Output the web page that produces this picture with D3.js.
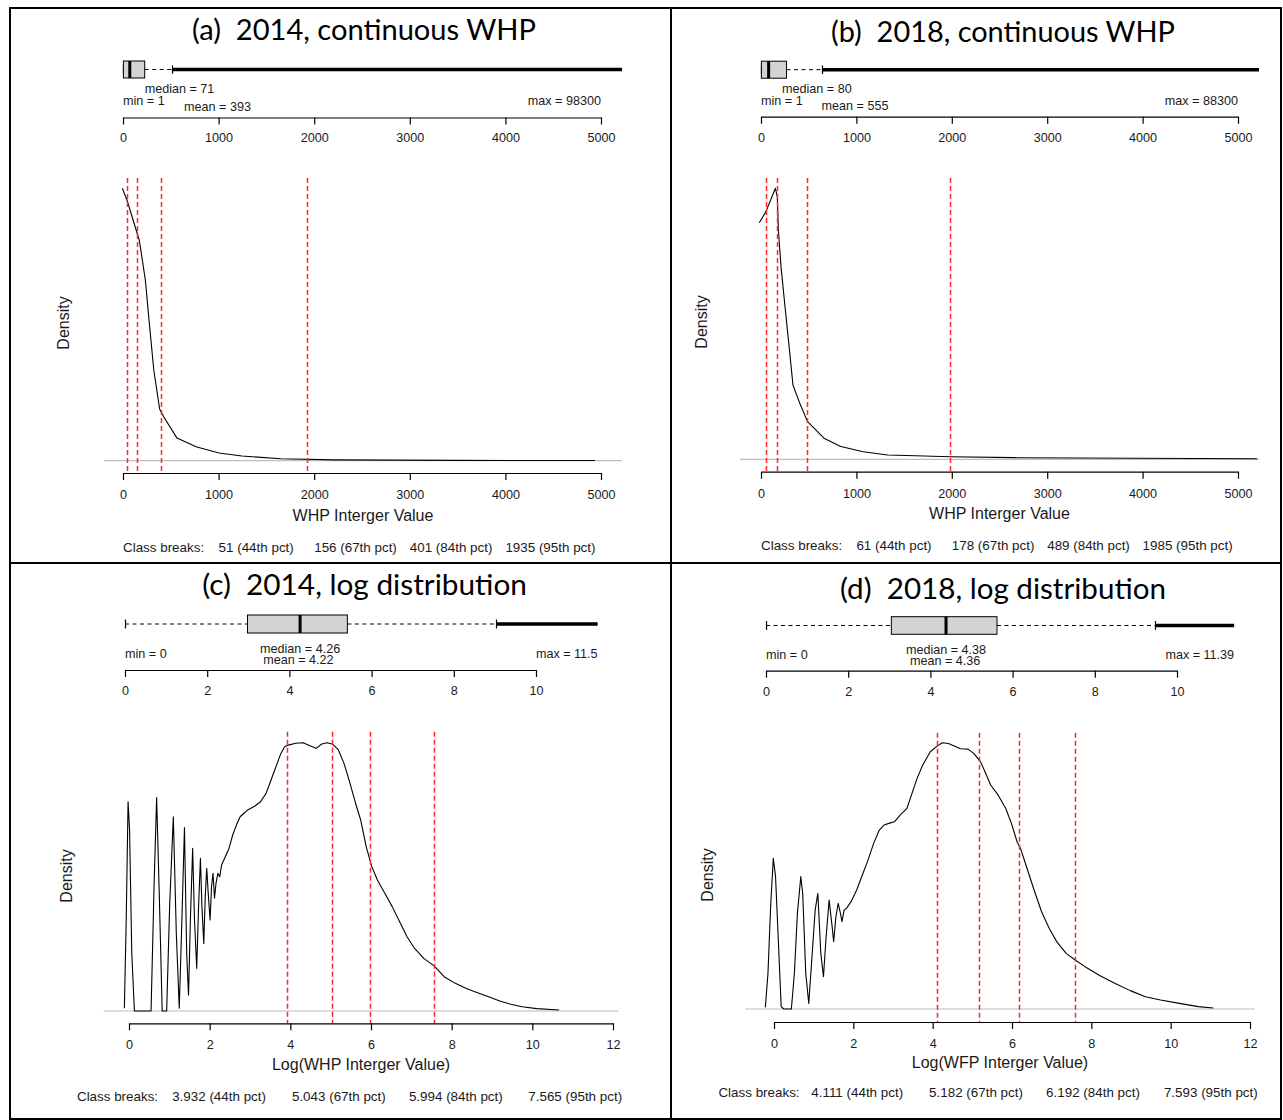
<!DOCTYPE html>
<html>
<head>
<meta charset="utf-8">
<script src="https://cdn.jsdelivr.net/npm/d3@7"></script>
<style>
  body { margin: 0; background: #fff; }
  text { font-family: "Liberation Sans", Arial, sans-serif; fill: #1a1a1a; }
</style>
</head>
<body>
<script>
// ---- data ----
var titles = ["(a)  2014, continuous WHP", "(b)  2018, continuous WHP",
              "(c)  2014, log distribution", "(d)  2018, log distribution"]
var xTitles = ["WHP Interger Value", "WHP Interger Value",
               "Log(WHP Interger Value)", "Log(WFP Interger Value)"]

var contTicks = [0, 1000, 2000, 3000, 4000, 5000]
var logTopTicks = [0, 2, 4, 6, 8, 10]
var logBottomTicks = [0, 2, 4, 6, 8, 10, 12]

// low whisker, q1, median, q3, high whisker
var boxA = [1, 4, 71, 227, 520]
var boxB = [1, 4, 80, 267, 646]
var boxC = [0, 2.98, 4.26, 5.41, 9.03]
var boxD = [0, 3.05, 4.38, 5.62, 9.47]

// min, median, mean, max
var summaryA = [1, 71, 393, 98300]
var summaryB = [1, 80, 555, 88300]
var summaryC = [0, 4.26, 4.22, 11.5]
var summaryD = [0, 4.38, 4.36, 11.39]

var pctNames = ["44th pct", "67th pct", "84th pct", "95th pct"]
var breaksA = [51, 156, 401, 1935]
var breaksB = [61, 178, 489, 1985]
var breaksC = [3.932, 5.043, 5.994, 7.565]
var breaksD = [4.111, 5.182, 6.192, 7.593]

// density curves, [value, relative density]
var densityA = [[-7, 1.0], [41, 0.957], [169, 0.811], [186, 0.774], [234, 0.663], [272, 0.517],
  [322, 0.333], [383, 0.19], [424, 0.162], [565, 0.083], [764, 0.051], [1004, 0.028],
  [1245, 0.017], [1651, 0.007], [2213, 0.003], [3500, 0.0012], [4937, 0.0005]]

var densityB = [[-18, 0.873], [52, 0.914], [151, 1.0], [171, 0.969], [182, 0.846], [210, 0.71],
  [248, 0.576], [295, 0.415], [335, 0.274], [405, 0.208], [488, 0.139], [660, 0.078],
  [836, 0.047], [1072, 0.028], [1327, 0.016], [1619, 0.013], [1985, 0.0096], [2646, 0.006],
  [5200, 0.002]]

var densityC = [[-0.115, 0.01], [-0.069, 0.339], [-0.023, 0.78], [0.014, 0.675], [0.069, 0.215],
  [0.134, 0], [0.547, 0], [0.621, 0.463], [0.685, 0.796], [0.75, 0.439], [0.823, 0], [0.934, 0],
  [1.007, 0.389], [1.099, 0.724], [1.173, 0.289], [1.246, 0.01], [1.311, 0.339], [1.375, 0.684],
  [1.43, 0.215], [1.476, 0.06], [1.522, 0.339], [1.578, 0.606], [1.624, 0.339], [1.679, 0.159],
  [1.725, 0.389], [1.771, 0.569], [1.808, 0.389], [1.854, 0.252], [1.89, 0.426], [1.927, 0.532],
  [1.964, 0.439], [2.01, 0.339], [2.046, 0.463], [2.083, 0.513], [2.12, 0.42], [2.157, 0.476],
  [2.203, 0.513], [2.249, 0.5], [2.295, 0.544], [2.387, 0.575], [2.479, 0.606], [2.571, 0.656],
  [2.663, 0.693], [2.755, 0.724], [2.847, 0.737], [2.939, 0.749], [3.012, 0.755], [3.123, 0.764],
  [3.26, 0.78], [3.399, 0.811], [3.49, 0.848], [3.583, 0.886], [3.674, 0.923], [3.766, 0.96],
  [3.858, 0.985], [3.95, 0.991], [4.134, 0.998], [4.318, 1.0], [4.502, 0.988], [4.64, 0.979],
  [4.778, 0.995], [4.916, 1.0], [5.054, 0.994], [5.192, 0.973], [5.33, 0.923], [5.468, 0.855],
  [5.606, 0.78], [5.744, 0.712], [5.882, 0.612], [6.02, 0.538], [6.158, 0.488], [6.342, 0.439],
  [6.526, 0.389], [6.71, 0.333], [6.894, 0.277], [7.077, 0.234], [7.307, 0.196], [7.565, 0.168],
  [7.813, 0.128], [8.089, 0.103], [8.365, 0.084], [8.641, 0.068], [8.917, 0.053], [9.193, 0.037],
  [9.469, 0.025], [9.744, 0.016], [10.112, 0.009], [10.664, 0.004]]

var densityD = [[-0.218, 0.006], [-0.152, 0.134], [-0.085, 0.384], [-0.018, 0.566], [0.039, 0.497],
  [0.105, 0.272], [0.181, 0.009], [0.248, 0], [0.438, 0], [0.514, 0.134], [0.59, 0.359],
  [0.676, 0.497], [0.724, 0.434], [0.8, 0.134], [0.876, 0.021], [0.952, 0.184], [1.038, 0.372],
  [1.105, 0.434], [1.18, 0.209], [1.247, 0.121], [1.314, 0.272], [1.39, 0.409], [1.466, 0.309],
  [1.504, 0.253], [1.561, 0.347], [1.618, 0.397], [1.675, 0.359], [1.713, 0.328], [1.77, 0.372],
  [1.827, 0.378], [1.942, 0.403], [2.084, 0.447], [2.227, 0.503], [2.37, 0.559], [2.512, 0.622],
  [2.655, 0.672], [2.779, 0.691], [2.893, 0.697], [3.036, 0.703], [3.179, 0.728], [3.35, 0.753],
  [3.464, 0.803], [3.607, 0.866], [3.749, 0.916], [3.94, 0.966], [4.111, 0.987], [4.244, 1.0],
  [4.396, 0.997], [4.558, 0.987], [4.701, 0.977], [4.891, 0.976], [5.034, 0.96], [5.205, 0.929],
  [5.319, 0.891], [5.462, 0.841], [5.652, 0.803], [5.843, 0.753], [5.985, 0.697], [6.128, 0.628],
  [6.214, 0.603], [6.366, 0.534], [6.556, 0.447], [6.746, 0.365], [6.937, 0.303], [7.127, 0.253],
  [7.365, 0.209], [7.593, 0.184], [7.841, 0.159], [8.221, 0.125], [8.602, 0.096], [8.983, 0.069],
  [9.363, 0.046], [9.744, 0.034], [10.22, 0.021], [10.695, 0.009], [11.076, 0.004]]

// ---- layout (pixels) ----
var panels = [
  { title: titles[0], titleX: 364, titleY: 40, titleW: 344,
    topDom: [0, 5000], topRange: [123, 601], topTicks: contTicks, topY: 117.5,
    boxY: 69.5, boxH: 17, box: boxA, summary: summaryA, clipMax: 5220,
    labs: [{ i: 1, at: 227, anchor: "start", y: 92.5, name: "median" },
           { i: 0, at: 0, anchor: "start", y: 105, name: "min" },
           { i: 2, at: 639, anchor: "start", y: 111, name: "mean" },
           { i: 3, at: 5000, anchor: "end", y: 105, name: "max" }],
    botDom: [0, 5000], botRange: [123, 601], botTicks: contTicks, botY: 473,
    region: [104, 622], regTop: 178, y0: 460.7, yMax: 188.3,
    density: densityA, breaks: breaksA, xTitle: xTitles[0], xTitleY: 521, classY: 551.5,
    classAt: [0, 1000, 2000, 3000, 4000], densX: 69, densY: 323 },
  { title: titles[1], titleX: 1003, titleY: 42, titleW: 344,
    topDom: [0, 5000], topRange: [761, 1238], topTicks: contTicks, topY: 116.7,
    boxY: 69.7, boxH: 17, box: boxB, summary: summaryB, clipMax: 5220,
    labs: [{ i: 1, at: 220, anchor: "start", y: 92.5, name: "median" },
           { i: 0, at: 0, anchor: "start", y: 104.5, name: "min" },
           { i: 2, at: 635, anchor: "start", y: 110, name: "mean" },
           { i: 3, at: 5000, anchor: "end", y: 104.5, name: "max" }],
    botDom: [0, 5000], botRange: [761, 1238], botTicks: contTicks, botY: 471.7,
    region: [740, 1259], regTop: 178, y0: 459.3, yMax: 188.3,
    density: densityB, breaks: breaksB, xTitle: xTitles[1], xTitleY: 519, classY: 549.5,
    classAt: [0, 1000, 2000, 3000, 4000], densX: 707, densY: 322 },
  { title: titles[2], titleX: 364.5, titleY: 595, titleW: 325,
    topDom: [0, 10], topRange: [125, 536], topTicks: logTopTicks, topY: 670,
    boxY: 624, boxH: 18, box: boxC, summary: summaryC, clipMax: 99,
    labs: [{ i: 1, at: null, anchor: "middle", y: 652.5, name: "median" },
           { i: 0, at: null, anchor: "start", y: 657.6, name: "min" },
           { i: 2, at: null, anchor: "middle", y: 664, name: "mean" },
           { i: 3, at: null, anchor: "end", y: 657.6, name: "max" }],
    botDom: [0, 12], botRange: [129, 613], botTicks: logBottomTicks, botY: 1023.3,
    region: [103.6, 618.5], regTop: 731.7, y0: 1011, yMax: 742.7,
    density: densityC, breaks: breaksC, xTitle: xTitles[2], xTitleY: 1070, classY: 1101,
    classAt: [-1.29, 1.07, 4.04, 6.94, 9.9], densX: 72, densY: 876 },
  { title: titles[3], titleX: 1003, titleY: 599, titleW: 326,
    topDom: [0, 10], topRange: [766, 1177], topTicks: logTopTicks, topY: 670.7,
    boxY: 625.5, boxH: 17.6, box: boxD, summary: summaryD, clipMax: 99,
    labs: [{ i: 1, at: null, anchor: "middle", y: 653.5, name: "median" },
           { i: 0, at: null, anchor: "start", y: 659, name: "min" },
           { i: 2, at: null, anchor: "middle", y: 665, name: "mean" },
           { i: 3, at: null, anchor: "end", y: 659, name: "max" }],
    botDom: [0, 12], botRange: [774, 1250], botTicks: logBottomTicks, botY: 1022,
    region: [745, 1255], regTop: 732.7, y0: 1009, yMax: 742.7,
    density: densityD, breaks: breaksD, xTitle: xTitles[3], xTitleY: 1068, classY: 1096.5,
    classAt: [-1.40, 0.94, 3.91, 6.86, 9.83], densX: 713, densY: 875 }
]

var width = 1283, height = 1120

var svg = d3.select("body").append("svg")
  .attr("width", width)
  .attr("height", height)

svg.append("rect").attr("width", width).attr("height", height).attr("fill", "#fff")

panels.forEach(drawPanel)

// frame
var frame = svg.append("g").attr("stroke", "#000").attr("stroke-width", 2).attr("fill", "none")
frame.append("rect").attr("x", 10).attr("y", 8).attr("width", 1271).attr("height", 1111)
frame.append("line").attr("x1", 671).attr("x2", 671).attr("y1", 8).attr("y2", 1119)
frame.append("line").attr("x1", 10).attr("x2", 1281).attr("y1", 563).attr("y2", 563)

function snap(v) { return Math.round(v - 0.5) + 0.5 }

function drawPanel(p) {
  var g = svg.append("g")

  // title, fitted to the width it has in the figure (keep the double space)
  var t = g.append("text")
    .attr("x", p.titleX).attr("y", p.titleY)
    .attr("text-anchor", "middle")
    .attr("xml:space", "preserve")
    .style("white-space", "pre")
    .style("font-family", "Lato, 'Open Sans', sans-serif")
    .style("font-size", "27px")
    .style("fill", "#000")
    .text(p.title)
  var tw = t.node().getComputedTextLength()
  t.style("font-size", (27 * p.titleW / tw) + "px")

  // ---- boxplot ----
  var xTop = d3.scaleLinear().domain(p.topDom).range(p.topRange)
  var b = p.box
  var cy = p.boxY, bh = p.boxH
  var outEnd = xTop(Math.min(p.summary[3], p.clipMax))

  g.append("line")
    .attr("x1", xTop(b[3])).attr("x2", xTop(b[4])).attr("y1", cy).attr("y2", cy)
    .attr("stroke", "#000").attr("stroke-dasharray", "4,3.5")
  g.append("line")
    .attr("x1", xTop(b[0])).attr("x2", xTop(b[1])).attr("y1", cy).attr("y2", cy)
    .attr("stroke", "#000").attr("stroke-dasharray", "4,3.5")
  // staples
  ;[b[0], b[4]].forEach(function (v) {
    g.append("line")
      .attr("x1", snap(xTop(v))).attr("x2", snap(xTop(v))).attr("y1", cy - bh / 4).attr("y2", cy + bh / 4)
      .attr("stroke", "#000").attr("stroke-width", 1.2)
  })
  // outliers, so many that they form a thick bar
  g.append("line")
    .attr("x1", xTop(b[4])).attr("x2", outEnd).attr("y1", cy).attr("y2", cy)
    .attr("stroke", "#000").attr("stroke-width", 3.6)
  g.append("rect")
    .attr("x", xTop(b[1])).attr("width", xTop(b[3]) - xTop(b[1]))
    .attr("y", cy - bh / 2).attr("height", bh)
    .attr("fill", "#d3d3d3").attr("stroke", "#000").attr("stroke-width", 1)
  g.append("line")
    .attr("x1", xTop(b[2])).attr("x2", xTop(b[2])).attr("y1", cy - bh / 2).attr("y2", cy + bh / 2)
    .attr("stroke", "#000").attr("stroke-width", 3)

  // summary labels
  p.labs.forEach(function (l) {
    var v = p.summary[l.i]
    var at = l.at == null ? v : l.at
    g.append("text")
      .attr("x", xTop(at)).attr("y", l.y)
      .attr("text-anchor", l.anchor)
      .style("font-size", "12.6px")
      .text(l.name + " = " + v)
  })

  // axis under the boxplot
  var topAxis = g.append("g")
    .attr("transform", "translate(0," + p.topY + ")")
    .call(d3.axisBottom(xTop).tickValues(p.topTicks).tickSize(7).tickSizeOuter(0).tickPadding(9)
      .tickFormat(d3.format("d")))
  styleAxis(topAxis)

  // ---- density plot ----
  var xBot = d3.scaleLinear().domain(p.botDom).range(p.botRange)
  var y = d3.scaleLinear().domain([0, 1]).range([p.y0, p.yMax])

  // zero line
  g.append("line")
    .attr("x1", p.region[0]).attr("x2", p.region[1]).attr("y1", y(0)).attr("y2", y(0))
    .attr("stroke", "#bebebe").attr("stroke-width", 1.2)

  g.append("path")
    .datum(p.density)
    .attr("fill", "none")
    .attr("stroke", "#000")
    .attr("stroke-width", 1.1)
    .attr("stroke-linejoin", "round")
    .attr("d", d3.line().x(function (d) { return xBot(d[0]) }).y(function (d) { return y(d[1]) }))

  // class breaks
  g.selectAll(".brk")
    .data(p.breaks)
    .enter().append("line")
    .attr("class", "brk")
    .attr("x1", function (d) { return snap(xBot(d)) }).attr("x2", function (d) { return snap(xBot(d)) })
    .attr("y1", p.regTop).attr("y2", p.botY)
    .attr("stroke", "#ff2626").attr("stroke-width", 1.5)
    .attr("stroke-dasharray", "5,3")

  var botAxis = g.append("g")
    .attr("transform", "translate(0," + p.botY + ")")
    .call(d3.axisBottom(xBot).tickValues(p.botTicks).tickSize(7).tickSizeOuter(0).tickPadding(10)
      .tickFormat(d3.format("d")))
  styleAxis(botAxis)

  g.append("text")
    .attr("x", (p.region[0] + p.region[1]) / 2).attr("y", p.xTitleY)
    .attr("text-anchor", "middle")
    .style("font-size", "16px")
    .text(p.xTitle)

  g.append("text")
    .attr("transform", "translate(" + p.densX + "," + p.densY + ") rotate(-90)")
    .attr("text-anchor", "middle")
    .style("font-size", "16px")
    .text("Density")

  var classTexts = ["Class breaks:"].concat(p.breaks.map(function (d, i) {
    return d + " (" + pctNames[i] + ")"
  }))
  g.selectAll(".cls")
    .data(classTexts)
    .enter().append("text")
    .attr("class", "cls")
    .attr("x", function (d, i) { return xBot(p.classAt[i]) })
    .attr("y", p.classY)
    .style("font-size", "13.4px")
    .text(function (d) { return d })
}

function styleAxis(a) {
  a.attr("font-family", null).attr("font-size", null)
  a.select(".domain").attr("stroke", "#000").attr("stroke-width", 1.2)
  a.selectAll(".tick line").attr("stroke", "#000").attr("stroke-width", 1.2)
  a.selectAll(".tick text").style("font-size", "12.6px").style("fill", "#1a1a1a")
}
</script>
</body>
</html>
